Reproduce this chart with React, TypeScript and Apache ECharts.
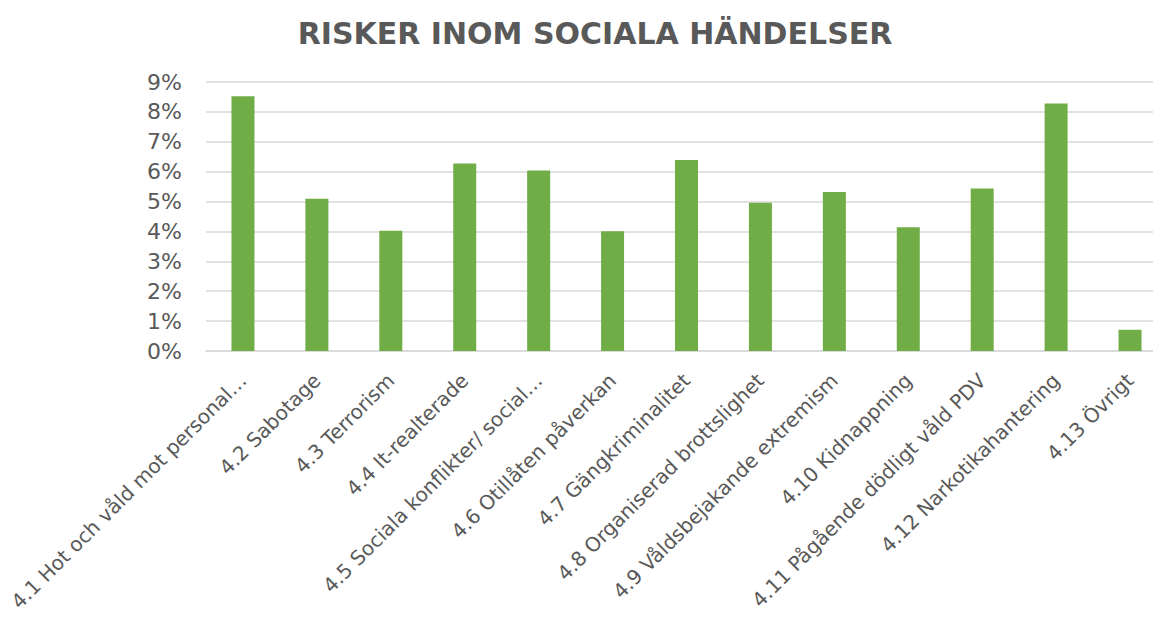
import React, { useEffect, useRef } from "react";
import * as echarts from "echarts";

const categories = [
  "4.1 Hot och våld mot personal…",
  "4.2 Sabotage",
  "4.3 Terrorism",
  "4.4 It-realterade",
  "4.5 Sociala konflikter/ social…",
  "4.6 Otillåten påverkan",
  "4.7 Gängkriminalitet",
  "4.8 Organiserad brottslighet",
  "4.9 Våldsbejakande extremism",
  "4.10 Kidnappning",
  "4.11 Pågående dödligt våld PDV",
  "4.12 Narkotikahantering",
  "4.13 Övrigt",
];

const values = [8.52, 5.09, 4.02, 6.27, 6.04, 4.01, 6.39, 4.96, 5.32, 4.14, 5.44, 8.28, 0.71];

const yTicks = [0, 1, 2, 3, 4, 5, 6, 7, 8, 9];

const titleText = "RISKER INOM SOCIALA HÄNDELSER";

export default function App() {
  const ref = useRef<HTMLDivElement>(null);
  useEffect(() => {
    if (!ref.current) return;
    const chart = echarts.init(ref.current, null, { renderer: "svg" });
    const font = "'DejaVu Sans', Verdana, sans-serif";
    chart.setOption({
      animation: false,
      backgroundColor: "#ffffff",
      title: {
        text: titleText,
        left: 590,
        top: 13,
        textAlign: "center",
        textStyle: { fontFamily: font, fontSize: 30, fontWeight: "bold", color: "#595959" },
      },
      grid: {
        left: 206,
        top: 82,
        width: 961,
        height: 269,
        containLabel: false,
        outerBoundsMode: "none",
      },
      xAxis: {
        type: "category",
        data: categories,
        axisLine: { lineStyle: { color: "#D9D9D9", width: 1.5 } },
        axisTick: { show: false },
        axisLabel: {
          rotate: 45,
          interval: 0,
          margin: 26,
          fontFamily: font,
          fontSize: 20,
          color: "#595959",
        },
      },
      yAxis: {
        type: "value",
        min: yTicks[0],
        max: yTicks[yTicks.length - 1],
        interval: 1,
        axisLine: { show: false },
        axisTick: { show: false },
        splitLine: { lineStyle: { color: "#D9D9D9", width: 1.5 } },
        axisLabel: {
          formatter: (v: number) => `${Math.round(v)}%`,
          margin: 24,
          fontFamily: font,
          fontSize: 22,
          color: "#595959",
        },
      },
      series: [
        {
          type: "bar",
          data: values,
          barWidth: 23,
          itemStyle: { color: "#70AD47" },
        },
      ],
    });
    return () => chart.dispose();
  }, []);
  return (
    <div
      style={{
        position: "fixed",
        left: 0,
        top: 0,
        width: 1153,
        height: 621,
        overflow: "hidden",
        background: "#fff",
      }}
    >
      <div ref={ref} style={{ width: 1180, height: 621 }} />
    </div>
  );
}
